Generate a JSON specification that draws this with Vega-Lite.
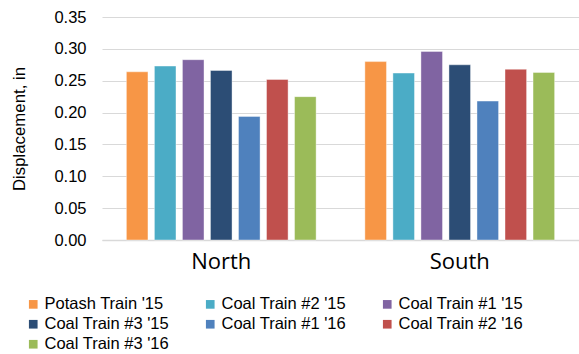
{
  "$schema": "https://vega.github.io/schema/vega-lite/v6.json",
  "width": 477,
  "height": 223,
  "autosize": {"type": "none"},
  "padding": {"left": 102, "top": 17, "right": 0, "bottom": 114},
  "background": "white",
  "config": {
    "font": "Liberation Sans",
    "view": {"stroke": null}
  },
  "data": {
    "values": [
      {"loc": "North", "train": "Potash Train '15", "v": 0.264},
      {"loc": "North", "train": "Coal Train #2 '15", "v": 0.273},
      {"loc": "North", "train": "Coal Train #1 '15", "v": 0.283},
      {"loc": "North", "train": "Coal Train #3 '15", "v": 0.266},
      {"loc": "North", "train": "Coal Train #1 '16", "v": 0.194},
      {"loc": "North", "train": "Coal Train #2 '16", "v": 0.252},
      {"loc": "North", "train": "Coal Train #3 '16", "v": 0.225},
      {"loc": "South", "train": "Potash Train '15", "v": 0.280},
      {"loc": "South", "train": "Coal Train #2 '15", "v": 0.262},
      {"loc": "South", "train": "Coal Train #1 '15", "v": 0.296},
      {"loc": "South", "train": "Coal Train #3 '15", "v": 0.275},
      {"loc": "South", "train": "Coal Train #1 '16", "v": 0.218},
      {"loc": "South", "train": "Coal Train #2 '16", "v": 0.268},
      {"loc": "South", "train": "Coal Train #3 '16", "v": 0.263}
    ]
  },
  "mark": {"type": "bar", "stroke": "white", "strokeOpacity": 0.4, "strokeWidth": 1},
  "encoding": {
    "x": {
      "field": "loc", "type": "nominal",
      "scale": {"paddingInner": 0, "paddingOuter": 0},
      "axis": {
        "title": null, "labelAngle": 0, "labelFont": "Open Sans", "labelFontSize": 22, "labelColor": "#000000",
        "labelPadding": 11, "ticks": false, "domainColor": "#d9d9d9", "domainWidth": 1.5, "grid": false
      }
    },
    "xOffset": {
      "field": "train", "type": "nominal",
      "sort": ["Potash Train '15", "Coal Train #2 '15", "Coal Train #1 '15", "Coal Train #3 '15", "Coal Train #1 '16", "Coal Train #2 '16", "Coal Train #3 '16"],
      "scale": {"paddingInner": 0.23, "paddingOuter": 0.87}
    },
    "y": {
      "field": "v", "type": "quantitative",
      "scale": {"domain": [0, 0.35], "nice": false},
      "axis": {
        "title": "Displacement, in", "titleFontSize": 16.8, "titleFontWeight": "normal", "titleColor": "#000000",
        "titlePadding": 25,
        "format": ".2f", "values": [0, 0.05, 0.1, 0.15, 0.2, 0.25, 0.3, 0.35],
        "labelFontSize": 16.5, "labelColor": "#000000", "labelPadding": 16,
        "ticks": false, "domain": false, "gridColor": "#d9d9d9", "gridWidth": 1.2
      }
    },
    "color": {
      "field": "train", "type": "nominal",
      "sort": ["Potash Train '15", "Coal Train #2 '15", "Coal Train #1 '15", "Coal Train #3 '15", "Coal Train #1 '16", "Coal Train #2 '16", "Coal Train #3 '16"],
      "scale": {"range": ["#F79646", "#4BACC6", "#8064A2", "#2C4D75", "#4F81BD", "#C0504D", "#9BBB59"]},
      "legend": {
        "title": null, "orient": "none", "legendX": -77, "legendY": 279,
        "direction": "horizontal", "columns": 3, "gridAlign": "all",
        "symbolType": "square", "symbolSize": 75, "symbolStrokeWidth": 0,
        "labelFontSize": 16.5, "labelColor": "#000000", "labelOffset": 3,
        "columnPadding": 32, "rowPadding": 3, "labelLimit": 300
      }
    }
  }
}
